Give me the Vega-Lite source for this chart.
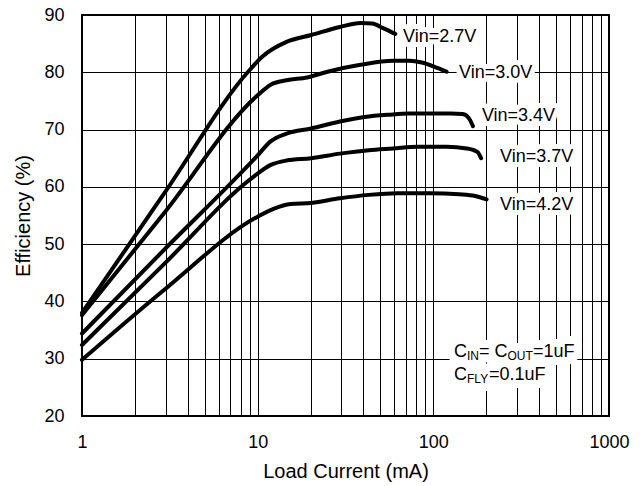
{
  "$schema": "https://vega.github.io/schema/vega-lite/v6.json",
  "width": 527,
  "height": 401,
  "autosize": "none",
  "padding": {"left": 82, "top": 15, "right": 34, "bottom": 70},
  "config": {
    "font": "Liberation Sans",
    "view": {"stroke": "black", "strokeWidth": 2},
    "axis": {
      "domain": false,
      "ticks": false,
      "grid": true,
      "gridColor": "black",
      "gridOpacity": 1,
      "gridWidth": 1,
      "labelColor": "black",
      "labelFontSize": 18,
      "labelOverlap": false,
      "labelBound": false,
      "labelFlush": false,
      "titleColor": "black",
      "titleFontSize": 20,
      "titleFontWeight": "normal"
    }
  },
  "datasets": {
    "curves": [
      {"vin": "2.7V", "I": 1, "E": 38.0},
      {"vin": "2.7V", "I": 2.93, "E": 58.8},
      {"vin": "2.7V", "I": 9.0, "E": 80.4},
      {"vin": "2.7V", "I": 10.6, "E": 82.7},
      {"vin": "2.7V", "I": 14.6, "E": 85.3},
      {"vin": "2.7V", "I": 20.2, "E": 86.5},
      {"vin": "2.7V", "I": 29.4, "E": 87.9},
      {"vin": "2.7V", "I": 38.5, "E": 88.6},
      {"vin": "2.7V", "I": 45, "E": 88.5},
      {"vin": "2.7V", "I": 51.7, "E": 87.7},
      {"vin": "2.7V", "I": 60.7, "E": 86.7},
      {"vin": "3.0V", "I": 1, "E": 37.6},
      {"vin": "3.0V", "I": 2.93, "E": 55.4},
      {"vin": "3.0V", "I": 10.0, "E": 76.0},
      {"vin": "3.0V", "I": 11.8, "E": 77.8},
      {"vin": "3.0V", "I": 14.6, "E": 78.6},
      {"vin": "3.0V", "I": 19.1, "E": 79.1},
      {"vin": "3.0V", "I": 25, "E": 80.1},
      {"vin": "3.0V", "I": 38.5, "E": 81.3},
      {"vin": "3.0V", "I": 59, "E": 82.0},
      {"vin": "3.0V", "I": 73, "E": 82.0},
      {"vin": "3.0V", "I": 86, "E": 81.7},
      {"vin": "3.0V", "I": 101, "E": 81.0},
      {"vin": "3.0V", "I": 119, "E": 80.1},
      {"vin": "3.4V", "I": 1, "E": 34.4},
      {"vin": "3.4V", "I": 2.93, "E": 49.0},
      {"vin": "3.4V", "I": 10, "E": 65.5},
      {"vin": "3.4V", "I": 11.8, "E": 67.9},
      {"vin": "3.4V", "I": 14.6, "E": 69.3},
      {"vin": "3.4V", "I": 20.2, "E": 70.2},
      {"vin": "3.4V", "I": 29.4, "E": 71.4},
      {"vin": "3.4V", "I": 40.6, "E": 72.2},
      {"vin": "3.4V", "I": 55.9, "E": 72.6},
      {"vin": "3.4V", "I": 73, "E": 72.8},
      {"vin": "3.4V", "I": 95, "E": 72.8},
      {"vin": "3.4V", "I": 125, "E": 72.8},
      {"vin": "3.4V", "I": 147, "E": 72.7},
      {"vin": "3.4V", "I": 160, "E": 71.9},
      {"vin": "3.4V", "I": 168, "E": 70.6},
      {"vin": "3.7V", "I": 1, "E": 32.4},
      {"vin": "3.7V", "I": 2.93, "E": 46.5},
      {"vin": "3.7V", "I": 9.5, "E": 61.8},
      {"vin": "3.7V", "I": 11.8, "E": 63.8},
      {"vin": "3.7V", "I": 14.6, "E": 64.6},
      {"vin": "3.7V", "I": 20.2, "E": 65.0},
      {"vin": "3.7V", "I": 29.4, "E": 65.8},
      {"vin": "3.7V", "I": 42.9, "E": 66.4},
      {"vin": "3.7V", "I": 59, "E": 66.7},
      {"vin": "3.7V", "I": 81, "E": 67.0},
      {"vin": "3.7V", "I": 119, "E": 67.0},
      {"vin": "3.7V", "I": 155, "E": 66.7},
      {"vin": "3.7V", "I": 178, "E": 66.1},
      {"vin": "3.7V", "I": 187, "E": 65.0},
      {"vin": "4.2V", "I": 1, "E": 29.8},
      {"vin": "4.2V", "I": 2.93, "E": 42.0},
      {"vin": "4.2V", "I": 10, "E": 54.8},
      {"vin": "4.2V", "I": 12.4, "E": 56.2},
      {"vin": "4.2V", "I": 15.4, "E": 57.0},
      {"vin": "4.2V", "I": 20.2, "E": 57.2},
      {"vin": "4.2V", "I": 29.4, "E": 58.0},
      {"vin": "4.2V", "I": 42.9, "E": 58.6},
      {"vin": "4.2V", "I": 62.7, "E": 58.9},
      {"vin": "4.2V", "I": 95, "E": 58.9},
      {"vin": "4.2V", "I": 140, "E": 58.7},
      {"vin": "4.2V", "I": 173, "E": 58.4},
      {"vin": "4.2V", "I": 201, "E": 57.8}
    ],
    "labels": [
      {"I": 67.2, "E": 86.2, "text": "Vin=2.7V"},
      {"I": 140, "E": 79.9, "text": "Vin=3.0V"},
      {"I": 189, "E": 72.4, "text": "Vin=3.4V"},
      {"I": 240, "E": 65.2, "text": "Vin=3.7V"},
      {"I": 240, "E": 56.8, "text": "Vin=4.2V"}
    ],
    "note": [
      {"I": 131.1, "E": 30.3, "text": "C"},
      {"I": 181.9, "E": 30.3, "text": "= C"},
      {"I": 369.3, "E": 30.3, "text": "=1uF"},
      {"I": 131.1, "E": 26.3, "text": "C"},
      {"I": 207.5, "E": 26.3, "text": "=0.1uF"}
    ],
    "subs": [
      {"I": 155.5, "E": 30.3, "text": "IN"},
      {"I": 264.3, "E": 30.3, "text": "OUT"},
      {"I": 155.5, "E": 26.3, "text": "FLY"}
    ]
  },
  "layer": [
    {
      "data": {"name": "note"},
      "mark": {"type": "text", "align": "left", "baseline": "alphabetic", "fontSize": 18, "stroke": "white", "strokeWidth": 16, "strokeJoin": "round", "fill": "white"},
      "encoding": {
        "x": {"field": "I", "type": "quantitative", "scale": {"type": "log", "domain": [1, 1000]},
          "axis": {
            "values": [1, 2, 3, 4, 5, 6, 7, 8, 9, 10, 20, 30, 40, 50, 60, 70, 80, 90, 100, 200, 300, 400, 500, 600, 700, 800, 900, 1000],
            "format": "d",
            "labelExpr": "(datum.value == 1 || datum.value == 10 || datum.value == 100 || datum.value == 1000) ? datum.label : ''",
            "labelPadding": 17,
            "title": "Load Current (mA)",
            "titlePadding": 10
          }},
        "y": {"field": "E", "type": "quantitative", "scale": {"domain": [20, 90]},
          "axis": {
            "values": [20, 30, 40, 50, 60, 70, 80, 90],
            "labelPadding": 18,
            "title": "Efficiency (%)",
            "titlePadding": 10
          }},
        "text": {"field": "text"}
      }
    },
    {
      "data": {"name": "subs"},
      "mark": {"type": "text", "align": "left", "baseline": "alphabetic", "fontSize": 12, "dy": 3, "stroke": "white", "strokeWidth": 16, "strokeJoin": "round", "fill": "white"},
      "encoding": {
        "x": {"field": "I", "type": "quantitative", "scale": {"type": "log", "domain": [1, 1000]}},
        "y": {"field": "E", "type": "quantitative", "scale": {"domain": [20, 90]}},
        "text": {"field": "text"}
      }
    },
    {
      "data": {"name": "labels"},
      "mark": {"type": "text", "align": "left", "baseline": "middle", "fontSize": 18, "stroke": "white", "strokeWidth": 10, "strokeJoin": "round", "fill": "white"},
      "encoding": {
        "x": {"field": "I", "type": "quantitative", "scale": {"type": "log", "domain": [1, 1000]}},
        "y": {"field": "E", "type": "quantitative", "scale": {"domain": [20, 90]}},
        "text": {"field": "text"}
      }
    },
    {
      "data": {"name": "curves"},
      "mark": {"type": "line", "color": "black", "strokeWidth": 4, "interpolate": "monotone", "strokeCap": "round"},
      "encoding": {
        "x": {"field": "I", "type": "quantitative", "scale": {"type": "log", "domain": [1, 1000]}},
        "y": {"field": "E", "type": "quantitative", "scale": {"domain": [20, 90]}},
        "detail": {"field": "vin"}
      }
    },
    {
      "data": {"name": "labels"},
      "mark": {"type": "text", "align": "left", "baseline": "middle", "fontSize": 18, "fill": "black"},
      "encoding": {
        "x": {"field": "I", "type": "quantitative", "scale": {"type": "log", "domain": [1, 1000]}},
        "y": {"field": "E", "type": "quantitative", "scale": {"domain": [20, 90]}},
        "text": {"field": "text"}
      }
    },
    {
      "data": {"name": "note"},
      "mark": {"type": "text", "align": "left", "baseline": "alphabetic", "fontSize": 18, "fill": "black"},
      "encoding": {
        "x": {"field": "I", "type": "quantitative", "scale": {"type": "log", "domain": [1, 1000]}},
        "y": {"field": "E", "type": "quantitative", "scale": {"domain": [20, 90]}},
        "text": {"field": "text"}
      }
    },
    {
      "data": {"name": "subs"},
      "mark": {"type": "text", "align": "left", "baseline": "alphabetic", "fontSize": 12, "dy": 3, "fill": "black"},
      "encoding": {
        "x": {"field": "I", "type": "quantitative", "scale": {"type": "log", "domain": [1, 1000]}},
        "y": {"field": "E", "type": "quantitative", "scale": {"domain": [20, 90]}},
        "text": {"field": "text"}
      }
    }
  ]
}
